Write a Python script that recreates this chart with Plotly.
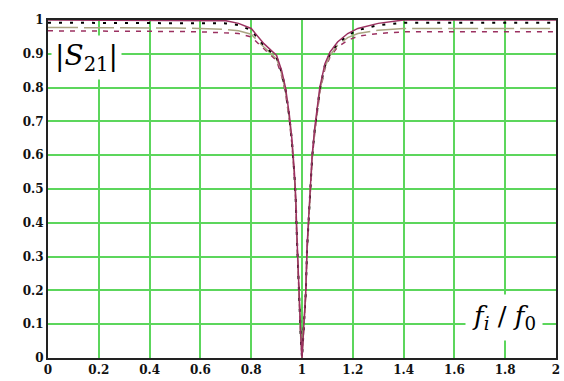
import plotly.graph_objects as go

# frequency ratio f_i / f_0
f = [0.0, 0.1, 0.2, 0.3, 0.4, 0.5, 0.6, 0.7, 0.75, 0.8, 0.85, 0.88, 0.9, 0.92, 0.935,
     0.95, 0.96, 0.97, 0.975, 0.98, 0.985, 0.99, 0.995, 1.0, 1.005, 1.01, 1.015, 1.02,
     1.025, 1.03, 1.04, 1.05, 1.06, 1.07, 1.09, 1.11, 1.14, 1.18, 1.22, 1.3, 1.4, 1.5,
     1.6, 1.7, 1.8, 1.9, 2.0]

s21_solid = [1.0, 1.0, 1.0, 1.0, 1.0, 1.0, 1.0, 0.998, 0.99, 0.975, 0.93, 0.91, 0.895, 0.85, 0.80,
             0.72, 0.65, 0.55, 0.48, 0.36, 0.25, 0.16, 0.07, 0.0, 0.07, 0.13, 0.20, 0.33,
             0.40, 0.48, 0.60, 0.68, 0.75, 0.80, 0.87, 0.905, 0.935, 0.96, 0.975, 0.99, 1.0, 1.0,
             1.0, 1.0, 1.0, 1.0, 1.0]

s21_dot = [0.992, 0.992, 0.992, 0.992, 0.992, 0.992, 0.992, 0.99, 0.985, 0.97, 0.925, 0.905, 0.89, 0.845, 0.795,
           0.715, 0.645, 0.545, 0.475, 0.355, 0.245, 0.155, 0.065, 0.0, 0.065, 0.125, 0.195, 0.325,
           0.395, 0.475, 0.595, 0.675, 0.745, 0.795, 0.865, 0.90, 0.93, 0.955, 0.97, 0.985, 0.992, 0.992,
           0.992, 0.992, 0.992, 0.992, 0.992]

s21_longdash = [0.978, 0.978, 0.978, 0.977, 0.976, 0.976, 0.975, 0.972, 0.968, 0.958, 0.92, 0.90, 0.885, 0.84, 0.79,
                0.71, 0.64, 0.54, 0.47, 0.35, 0.24, 0.15, 0.06, 0.0, 0.06, 0.12, 0.19, 0.32,
                0.39, 0.47, 0.59, 0.67, 0.74, 0.79, 0.86, 0.895, 0.925, 0.948, 0.96, 0.97, 0.975, 0.975,
                0.975, 0.975, 0.975, 0.975, 0.975]

s21_dash = [0.968, 0.968, 0.967, 0.967, 0.966, 0.966, 0.965, 0.963, 0.96, 0.95, 0.915, 0.895, 0.88, 0.835, 0.785,
            0.705, 0.635, 0.535, 0.465, 0.345, 0.235, 0.145, 0.06, 0.0, 0.06, 0.12, 0.19, 0.32,
            0.39, 0.47, 0.59, 0.665, 0.735, 0.785, 0.855, 0.89, 0.92, 0.94, 0.952, 0.96, 0.965, 0.965,
            0.965, 0.965, 0.965, 0.965, 0.965]

x_ticks = [0, 0.2, 0.4, 0.6, 0.8, 1.0, 1.2, 1.4, 1.6, 1.8, 2.0]
x_labels = ["0", "0.2", "0.4", "0.6", "0.8", "1", "1.2", "1.4", "1.6", "1.8", "2"]
y_ticks = [0, 0.1, 0.2, 0.3, 0.4, 0.5, 0.6, 0.7, 0.8, 0.9, 1.0]
y_labels = ["0", "0.1", "0.2", "0.3", "0.4", "0.5", "0.6", "0.7", "0.8", "0.9", "1"]

MAROON = "#9b3060"
KHAKI = "#aaa582"
SERIF = "DejaVu Serif"

fig = go.Figure()
fig.add_trace(go.Scatter(x=f, y=s21_dash, mode="lines",
                         line=dict(color=MAROON, width=1.5, dash="5px,6px")))
fig.add_trace(go.Scatter(x=f, y=s21_longdash, mode="lines",
                         line=dict(color=KHAKI, width=1.5, dash="30px,6px")))
fig.add_trace(go.Scatter(x=f, y=s21_dot, mode="lines",
                         line=dict(color="black", width=2, dash="3px,8px")))
fig.add_trace(go.Scatter(x=f, y=s21_solid, mode="lines",
                         line=dict(color=MAROON, width=1.5)))

tickfont = dict(family=SERIF, size=12, color="#111", weight="bold")
fig.update_xaxes(range=[0, 2], tickvals=x_ticks, ticktext=x_labels, showgrid=True,
                 gridcolor="#5cd65c", gridwidth=1.5, showline=True, linecolor="#222",
                 linewidth=2, mirror=True, zeroline=False, ticks="", tickfont=tickfont,
                 layer="below traces")
fig.update_yaxes(range=[0, 1], tickvals=y_ticks, ticktext=y_labels, showgrid=True,
                 gridcolor="#5cd65c", gridwidth=1.5, showline=True, linecolor="#222",
                 linewidth=2, mirror=True, zeroline=False, ticks="", tickfont=tickfont,
                 layer="below traces")

LABEL_FONT = "DejaVu Serif"
fig.add_annotation(x=0.01, y=0.89, xref="x", yref="y", xanchor="left", yanchor="middle",
                   text="|<i>S</i><sub>21</sub>|", showarrow=False, bgcolor="white",
                   font=dict(family=LABEL_FONT, size=28, color="black"),
                   borderpad=3)
fig.add_annotation(x=1.64, y=0.12, xref="x", yref="y", xanchor="left", yanchor="middle",
                   text="<i>f<sub>i</sub></i> / <i>f</i><sub>0</sub>", showarrow=False,
                   bgcolor="white", font=dict(family=LABEL_FONT, size=26, color="black"),
                   borderpad=6)

fig.update_layout(width=564, height=381, margin=dict(l=48, r=4, t=20, b=23),
                  plot_bgcolor="white", paper_bgcolor="white", showlegend=False)

fig.write_html("out.html")
